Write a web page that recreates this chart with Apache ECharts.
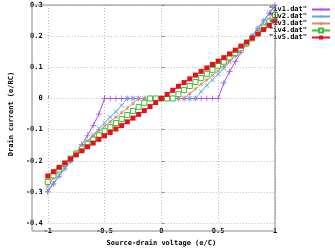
<!DOCTYPE html>
<html>
<head>
<meta charset="utf-8">
<script src="https://cdn.jsdelivr.net/npm/echarts@6/dist/echarts.min.js"></script>
<style>
  html, body { margin: 0; padding: 0; background: #fff; }
  #chart { width: 335px; height: 252px; }
</style>
</head>
<body>
<div id="chart"></div>
<script>
var voltage = [-1, -0.95, -0.9, -0.85, -0.8, -0.75, -0.7, -0.65, -0.6, -0.55, -0.5, -0.45, -0.4, -0.35, -0.3, -0.25, -0.2, -0.15, -0.1, -0.05, 0,
    0.05, 0.1, 0.15, 0.2, 0.25, 0.3, 0.35, 0.4, 0.45, 0.5, 0.55, 0.6, 0.65, 0.7, 0.75, 0.8, 0.85, 0.9, 0.95, 1];

var iv1 = [-0.3, -0.274, -0.249, -0.224, -0.2, -0.176, -0.148, -0.118, -0.086, -0.05,
    0, 0, 0, 0, 0, 0, 0, 0, 0, 0, 0, 0, 0, 0, 0, 0, 0, 0, 0, 0, 0,
    0.05, 0.086, 0.118, 0.148, 0.176, 0.2, 0.224, 0.249, 0.274, 0.3];
var iv2 = [-0.295, -0.272, -0.248, -0.225, -0.202, -0.18, -0.159, -0.138, -0.117, -0.097, -0.078, -0.06, -0.042, -0.022,
    0, 0, 0, 0, 0, 0, 0, 0, 0, 0, 0, 0, 0,
    0.022, 0.042, 0.06, 0.078, 0.097, 0.117, 0.138, 0.159, 0.18, 0.202, 0.225, 0.248, 0.272, 0.295];
var iv3 = [-0.282, -0.256, -0.232, -0.21, -0.19, -0.171, -0.153, -0.136, -0.12, -0.104, -0.089, -0.074, -0.06, -0.046, -0.031, -0.016,
    0, 0, 0, 0, 0, 0, 0, 0, 0,
    0.016, 0.031, 0.046, 0.06, 0.074, 0.089, 0.104, 0.12, 0.136, 0.153, 0.171, 0.19, 0.21, 0.232, 0.256, 0.282];
var iv4 = [-0.268, -0.247, -0.228, -0.21, -0.193, -0.177, -0.161, -0.146, -0.132, -0.118, -0.105, -0.092, -0.079, -0.066, -0.053, -0.04, -0.027, -0.014,
    0, 0, 0, 0, 0,
    0.014, 0.027, 0.04, 0.053, 0.066, 0.079, 0.092, 0.105, 0.118, 0.132, 0.146, 0.161, 0.177, 0.193, 0.21, 0.228, 0.247, 0.268];
var iv5 = [-0.249, -0.235, -0.221, -0.207, -0.194, -0.181, -0.168, -0.155, -0.143, -0.131, -0.12, -0.109, -0.098, -0.087, -0.075, -0.063, -0.051, -0.039, -0.026, -0.013,
    0,
    0.013, 0.026, 0.039, 0.051, 0.063, 0.075, 0.087, 0.098, 0.109, 0.12, 0.131, 0.143, 0.155, 0.168, 0.181, 0.194, 0.207, 0.221, 0.235, 0.249];

var seriesNames = ['"iv1.dat"', '"iv2.dat"', '"iv3.dat"', '"iv4.dat"', '"iv5.dat"'];
var yTicks = [-0.4, -0.3, -0.2, -0.1, 0, 0.1, 0.2, 0.3];

var plusPath = 'path://M0,4.4H10V5.6H0ZM4.4,0H5.6V10H4.4Z';
var starPath = 'path://M0,4.4H10V5.6H0ZM4.4,0H5.6V10H4.4ZM1.4,0.6L9.4,8.6L8.6,9.4L0.6,1.4ZM8.6,0.6L9.4,1.4L1.4,9.4L0.6,8.6Z';
var font = '"DejaVu Sans Mono", monospace';

function pairs(ys) {
    return voltage.map(function (v, i) { return [v, ys[i]]; });
}

function makeSeries(name, ys, color, symbol, size, extra) {
    var s = {
        name: name,
        type: 'line',
        data: pairs(ys),
        symbol: symbol,
        symbolSize: size,
        showAllSymbol: true,
        lineStyle: { color: color, width: 1 },
        itemStyle: { color: color },
        emphasis: { disabled: true },
        animation: false
    };
    if (extra) {
        for (var k in extra) s[k] = extra[k];
    }
    return s;
}

var myChart = echarts.init(document.getElementById('chart'));

var option = {
    backgroundColor: '#fff',
    grid: { left: 32, right: 60, top: 5, bottom: 21 },
    legend: {
        orient: 'vertical',
        right: 4,
        top: 6,
        align: 'right',
        itemGap: 0,
        itemWidth: 18,
        itemHeight: 5,
        padding: 0,
        textStyle: { fontFamily: font, fontWeight: 'bold', fontSize: 7, lineHeight: 7, color: '#000', padding: [0, 0, 0, 0] },
        data: seriesNames
    },
    xAxis: {
        type: 'value',
        min: -1,
        max: 1,
        interval: 0.5,
        name: 'Source-drain voltage (e/C)',
        nameLocation: 'middle',
        nameGap: 14,
        nameTextStyle: { fontFamily: font, fontWeight: 'bold', fontSize: 7, color: '#000' },
        axisLine: { show: false },
        axisTick: { show: true, inside: true, length: 3, lineStyle: { color: '#888' } },
        axisLabel: {
            fontFamily: font, fontWeight: 'bold', fontSize: 7, color: '#000', margin: 5,
            formatter: function (v) { return v === 0 ? '0' : String(v); }
        },
        splitLine: { show: true, lineStyle: { color: '#bbb', type: [1, 2], width: 1 } }
    },
    yAxis: {
        type: 'value',
        min: yTicks[0],
        max: yTicks[yTicks.length - 1],
        interval: 0.1,
        name: 'Drain current (e/RC)',
        nameLocation: 'middle',
        nameRotate: 90,
        nameGap: 28,
        nameTextStyle: { fontFamily: font, fontWeight: 'bold', fontSize: 7, color: '#000' },
        axisLine: { show: false },
        axisTick: { show: true, inside: true, length: 3, lineStyle: { color: '#888' } },
        axisLabel: {
            fontFamily: font, fontWeight: 'bold', fontSize: 7, color: '#000', margin: 5,
            formatter: function (v) { return Math.abs(v) < 1e-9 ? '0' : v.toFixed(1); }
        },
        splitLine: { show: true, lineStyle: { color: '#bbb', type: [1, 2], width: 1 } }
    },
    graphic: [{
        type: 'rect',
        shape: { x: 32, y: 5, width: 243, height: 226 },
        style: { fill: null, stroke: '#888', lineWidth: 1 },
        silent: true,
        z: 10
    }],
    series: [
        makeSeries(seriesNames[0], iv1, '#a84cf0', plusPath, 6),
        makeSeries(seriesNames[1], iv2, '#56a8ee', plusPath, 6, { symbolRotate: 45 }),
        makeSeries(seriesNames[2], iv3, '#de8a62', starPath, 4),
        makeSeries(seriesNames[3], iv4, '#3cbf3c', 'rect', 5, {
            itemStyle: { color: '#fff', borderColor: '#3cbf3c', borderWidth: 1 }
        }),
        makeSeries(seriesNames[4], iv5, '#e8101a', 'rect', 5)
    ]
};
myChart.setOption(option);
</script>
</body>
</html>
